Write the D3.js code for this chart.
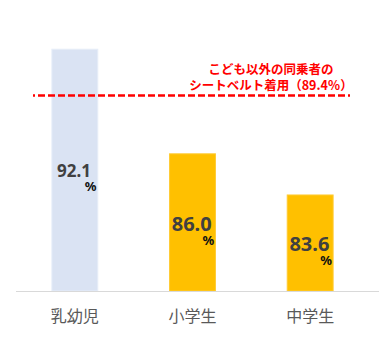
<!DOCTYPE html>
<html>
<head>
<meta charset="utf-8">
<script src="https://cdn.jsdelivr.net/npm/d3@7/dist/d3.min.js"></script>
<style>
  html, body { margin: 0; padding: 0; background: #fff; }
  svg { display: block; }
</style>
</head>
<body>
<svg id="chart" width="379" height="340"></svg>
<script>
// Seat-belt usage rate by age group (%)
const categories = ["乳幼児", "小学生", "中学生"];
const values = [92.1, 86.0, 83.6];
const barColors = ["#dae3f3", "#ffc000", "#ffc000"];
const labelSizes = [17, 20, 20];

// Reference: other (non-child) passengers
const referenceValue = 89.4;
const referenceLines = ["こども以外の同乗者の", "シートベルト着用（89.4％）"];

const svg = d3.select("#chart");
const W = 379, H = 340;
const baseline = 291;

const x = d3.scaleBand()
  .domain(categories)
  .range([16, 369])
  .paddingInner(0.61)
  .paddingOuter(0.305);

const y = d3.scaleLinear()
  .domain([78, 95])
  .range([baseline, -0.5]);

// bars
svg.append("g").selectAll("rect")
  .data(values)
  .join("rect")
  .attr("x", (d, i) => x(categories[i]))
  .attr("y", d => y(d))
  .attr("width", x.bandwidth())
  .attr("height", d => baseline - y(d))
  .attr("fill", (d, i) => barColors[i])
  .attr("stroke", (d, i) => i === 0 ? "#e6edf8" : "#ffcb33")
  .attr("stroke-width", 1);

// category axis
const axis = svg.append("g")
  .attr("transform", `translate(0,${baseline})`)
  .call(d3.axisBottom(x).tickSize(0).tickPadding(0));
axis.select(".domain").remove();
axis.append("line")
  .attr("x1", 16).attr("x2", W)
  .attr("y1", 0.5).attr("y2", 0.5)
  .attr("stroke", "#d9d9d9")
  .attr("stroke-width", 1.2);
axis.selectAll(".tick text")
  .attr("y", 31)
  .attr("dy", 0)
  .attr("fill", "#595959")
  .style("font-family", "'Noto Sans CJK JP', sans-serif")
  .style("font-size", "16px");

// value labels, centred in each bar with a small "%" below right
const labels = svg.append("g").selectAll("g")
  .data(values)
  .join("g")
  .attr("transform", (d, i) => {
    const cx = x(categories[i]) + x.bandwidth() / 2;
    const mid = (y(d) + baseline) / 2;
    return `translate(${cx},${mid})`;
  });

labels.append("text")
  .attr("x", -0.8)
  .attr("y", (d, i) => labelSizes[i] * 0.36 + 1)
  .attr("text-anchor", "middle")
  .attr("fill", "#404040")
  .style("font-family", "'Noto Sans', sans-serif")
  .style("font-weight", "bold")
  .style("font-size", (d, i) => labelSizes[i] + "px")
  .text(d => d.toFixed(1));

labels.append("text")
  .attr("x", 10)
  .attr("y", (d, i) => labelSizes[i] * 0.36 + 15)
  .attr("text-anchor", "start")
  .attr("fill", "#111")
  .style("font-family", "'Noto Sans', sans-serif")
  .style("font-weight", "bold")
  .style("font-size", "13px")
  .text("%");

// reference line for other passengers
svg.append("line")
  .attr("x1", 33).attr("x2", 350)
  .attr("y1", y(referenceValue)).attr("y2", y(referenceValue))
  .attr("stroke", "#ff0000")
  .attr("stroke-width", 2.4)
  .attr("stroke-dasharray", "7,3")
  .attr("stroke-dashoffset", 5);

svg.append("g").selectAll("text")
  .data(referenceLines)
  .join("text")
  .attr("x", 271)
  .attr("y", (d, i) => 74 + i * 15.5)
  .attr("text-anchor", "middle")
  .attr("fill", "#ff0000")
  .style("font-family", "'Noto Sans CJK JP', sans-serif")
  .style("font-weight", "bold")
  .style("font-size", "12.5px")
  .text(d => d);
</script>
</body>
</html>
